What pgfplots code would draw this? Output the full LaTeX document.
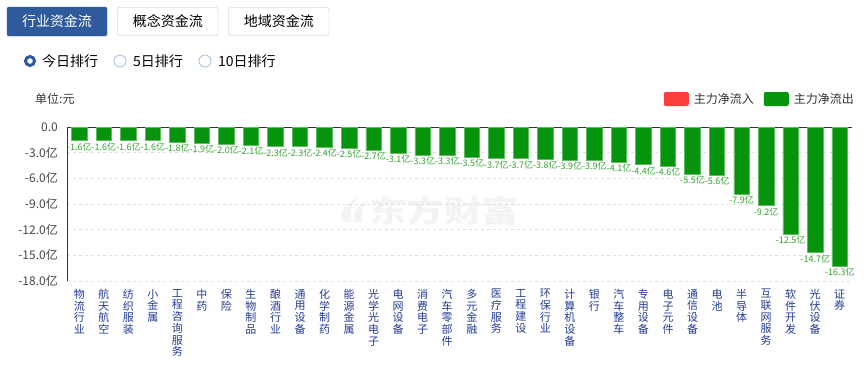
\documentclass[border=0pt]{standalone}
\usepackage{pgfplots}
\pgfplotsset{compat=1.18}
\usepackage{pgfplotstable}
\usepackage{fontspec}
\setmainfont{Noto Sans CJK SC}
\definecolor{barg}{RGB}{6,148,14}
\definecolor{baredge}{RGB}{95,188,95}
\definecolor{lblg}{RGB}{50,165,50}
\definecolor{catblue}{RGB}{35,60,150}
\definecolor{btnblue}{RGB}{47,90,155}
\definecolor{btnborder}{RGB}{170,198,226}
\definecolor{legred}{RGB}{250,62,62}
\definecolor{txtgrey}{RGB}{51,51,51}
\definecolor{wm}{RGB}{242,243,245}

\pgfplotstableread{
x v
0 -1.6
1 -1.6
2 -1.6
3 -1.6
4 -1.8
5 -1.9
6 -2.0
7 -2.1
8 -2.3
9 -2.3
10 -2.4
11 -2.5
12 -2.7
13 -3.1
14 -3.3
15 -3.3
16 -3.5
17 -3.7
18 -3.7
19 -3.8
20 -3.9
21 -3.9
22 -4.1
23 -4.4
24 -4.6
25 -5.5
26 -5.6
27 -7.9
28 -9.2
29 -12.5
30 -14.7
31 -16.3
}\flowdata

\begin{document}
\begin{tikzpicture}
\path[use as bounding box, fill=white] (0,0) rectangle (868pt,-365pt);
% tab buttons
\filldraw[fill=btnblue, draw=btnblue, rounded corners=2pt] (7pt,-7pt) rectangle (107pt,-36pt);
\node[text=white, font=\fontsize{14}{14}\selectfont] at (57pt,-21.5pt) {行业资金流};
\draw[btnborder, rounded corners=2pt] (117.5pt,-7.5pt) rectangle (218pt,-35.5pt);
\node[text=black, font=\fontsize{14}{14}\selectfont] at (167.8pt,-21.5pt) {概念资金流};
\draw[btnborder, rounded corners=2pt] (228.5pt,-7.5pt) rectangle (329pt,-35.5pt);
\node[text=black, font=\fontsize{14}{14}\selectfont] at (278.8pt,-21.5pt) {地域资金流};
% radio buttons
\draw[btnblue, line width=3pt, fill=white] (30pt,-61pt) circle (4.5pt);
\node[anchor=west, inner sep=0pt, font=\fontsize{14}{14}\selectfont] at (42pt,-61pt) {今日排行};
\draw[btnborder, line width=0.9pt, fill=white] (120pt,-61pt) circle (6pt);
\node[anchor=west, inner sep=0pt, font=\fontsize{14}{14}\selectfont] at (133pt,-61pt) {5日排行};
\draw[btnborder, line width=0.9pt, fill=white] (205pt,-61pt) circle (6pt);
\node[anchor=west, inner sep=0pt, font=\fontsize{14}{14}\selectfont] at (218pt,-61pt) {10日排行};
% unit
\node[anchor=west, inner sep=0pt, text=txtgrey, font=\fontsize{12}{12}\selectfont] at (35pt,-99pt) {单位:元};
% watermark
\fill[wm] (343pt,-222pt) .. controls (338pt,-211pt) and (347pt,-201pt) .. (358pt,-198pt)
  .. controls (351pt,-205pt) and (349pt,-213pt) .. (352pt,-222pt) -- cycle;
\fill[wm] (354pt,-222pt) .. controls (352pt,-212pt) and (358pt,-204pt) .. (368pt,-201pt)
  .. controls (362pt,-207pt) and (361pt,-215pt) .. (362pt,-222pt) -- cycle;
\node[text=wm, font=\fontsize{30}{30}\selectfont\bfseries, xscale=1.25, inner sep=0pt] at (444pt,-211pt) {东方财富};

\begin{axis}[
  at={(67pt,-281pt)}, anchor=south west,
  scale only axis, width=785pt, height=154pt,
  xmin=-0.5, xmax=31.5, ymin=-18, ymax=0,
  axis y line*=left, axis x line*=bottom,
  x axis line style={draw=none},
  y axis line style={draw=txtgrey, line width=0.8pt},
  ytick={-18,-15,-12,-9,-6,-3},
  yticklabel={\pgfmathprintnumber[fixed,fixed zerofill,precision=1,assume math mode=true]{\tick}亿},
  extra y ticks={0}, extra y tick labels={0.0},
  extra y tick style={major grid style={solid, draw=txtgrey, line width=0.8pt}},
  ymajorgrids, major grid style={dashed, draw=black!12, line width=0.6pt},
  major tick length=0pt,
  yticklabel style={font=\fontsize{12}{12}\selectfont, text=txtgrey!90, anchor=east, inner sep=0pt, xshift=-9pt},
  xtick={0,...,31},
  xticklabels={{物\\流\\行\\业},{航\\天\\航\\空},{纺\\织\\服\\装},{小\\金\\属},{工\\程\\咨\\询\\服\\务},{中\\药},{保\\险},{生\\物\\制\\品},{酿\\酒\\行\\业},{通\\用\\设\\备},{化\\学\\制\\药},{能\\源\\金\\属},{光\\学\\光\\电\\子},{电\\网\\设\\备},{消\\费\\电\\子},{汽\\车\\零\\部\\件},{多\\元\\金\\融},{医\\疗\\服\\务},{工\\程\\建\\设},{环\\保\\行\\业},{计\\算\\机\\设\\备},{银\\行},{汽\\车\\整\\车},{专\\用\\设\\备},{电\\子\\元\\件},{通\\信\\设\\备},{电\\池},{半\\导\\体},{互\\联\\网\\服\\务},{软\\件\\开\\发},{光\\伏\\设\\备},{证\\券}},
  xticklabel style={font=\fontsize{11}{11.7}\selectfont, text=catblue, align=center, anchor=north, inner sep=0pt, yshift=-8pt},
  legend style={draw=none, fill=none, at={(1,1)}, anchor=east, xshift=6pt, yshift=28pt,
    font=\fontsize{12}{12}\selectfont, text=txtgrey, nodes={inner sep=1pt},
    /tikz/every even column/.append style={column sep=9pt}},
  legend columns=2,
  legend image code/.code={\fill[#1, draw=none, rounded corners=2pt] (0pt,-7pt) rectangle (25pt,7pt); \path (29pt,0pt);},
]
\addlegendimage{fill=legred, draw=none}
\addlegendentry{主力净流入}
\addlegendimage{fill=barg, draw=none}
\addlegendentry{主力净流出}
\addplot[ybar, bar width=15.5pt, fill=barg, draw=baredge, line width=0.7pt,
  nodes near coords={\pgfmathprintnumber[fixed,fixed zerofill,precision=1,assume math mode=true]{\pgfplotspointmeta}亿},
  nodes near coords style={font=\fontsize{9}{9}\selectfont, text=lblg, inner sep=1.5pt},
  forget plot] table[x=x, y=v] {\flowdata};
\end{axis}
\end{tikzpicture}
\end{document}
